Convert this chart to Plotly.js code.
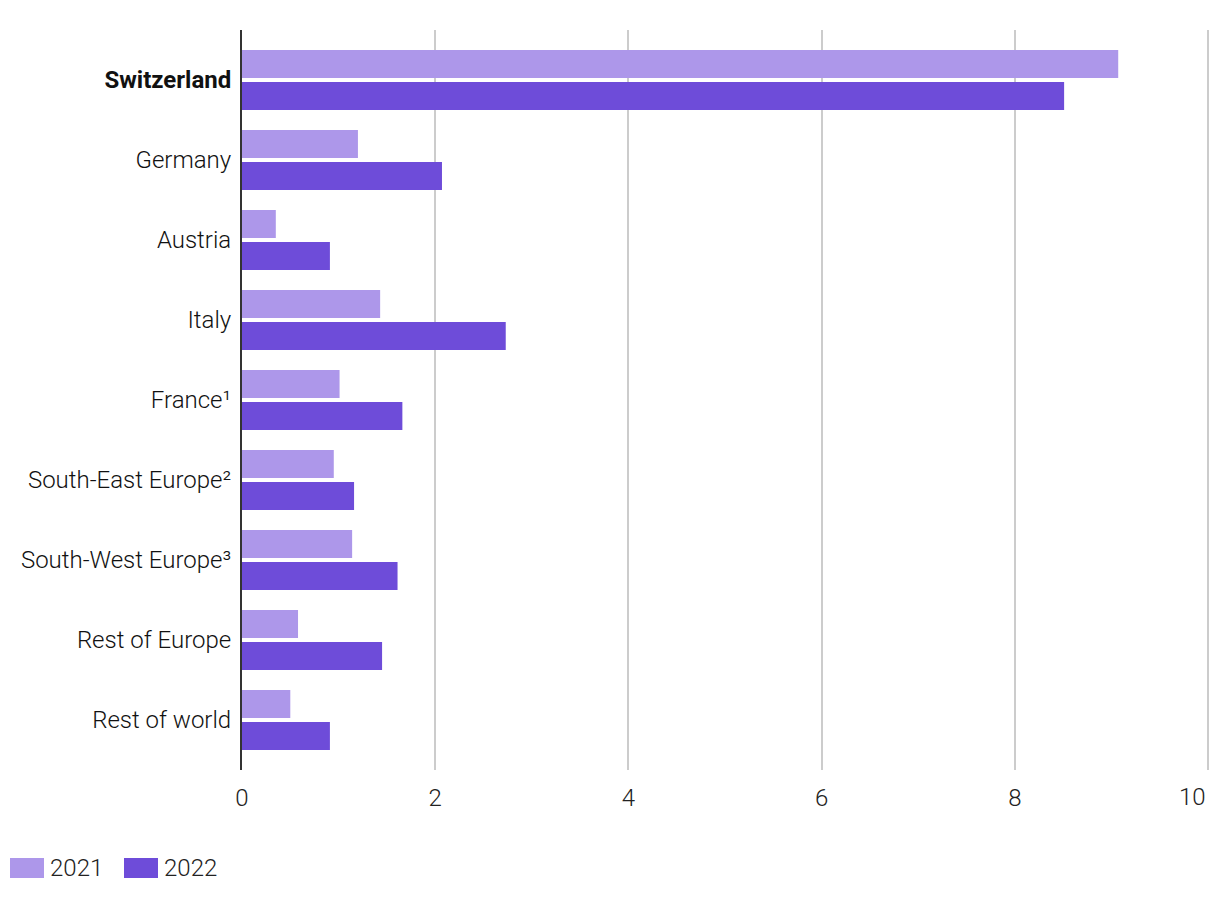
<!DOCTYPE html>
<html>
<head>
<meta charset="utf-8">
<script src="https://cdn.plot.ly/plotly-3.0.1.min.js"></script>
<style>html,body{margin:0;padding:0;background:#fff;}#chart{width:1220px;height:900px;}</style>
</head>
<body>
<div id="chart"></div>
<script>
const categories = ["Switzerland", "Germany", "Austria", "Italy", "France¹", "South-East Europe²", "South-West Europe³", "Rest of Europe", "Rest of world"];
const categoryLabels = ["<b>Switzerland</b>", "Germany", "Austria", "Italy", "France¹", "South-East Europe²", "South-West Europe³", "Rest of Europe", "Rest of world"];
const values2021 = [9.07, 1.20, 0.35, 1.43, 1.01, 0.95, 1.14, 0.58, 0.50];
const values2022 = [8.51, 2.07, 0.91, 2.73, 1.66, 1.16, 1.61, 1.45, 0.91];
const seriesNames = ["2021", "2022"];
const seriesColors = ["#AD97EA", "#6E4CD9"];
const xTicks = [0, 2, 4, 6, 8, 10];
const xTickLabels = ["0", "2", "4", "6", "8", "10"];

const FONT = "Roboto, 'Open Sans', sans-serif";

const traces = [values2021, values2022].map((vals, i) => ({
  type: "bar",
  orientation: "h",
  name: seriesNames[i],
  y: categories,
  x: vals,
  marker: {color: seriesColors[i]},
  hoverinfo: "x+name",
  showlegend: false
}));

// custom legend (wide swatches) built from series names/colours
const W = 968, H = 740, L = 242, T = 30;
const px = v => (v - L) / W;
const py = v => (T + H - v) / H;
const legendShapes = [], legendAnn = [];
seriesNames.forEach((n, i) => {
  const x0 = 10 + i * 114;
  legendShapes.push({type: "rect", xref: "paper", yref: "paper", x0: px(x0), x1: px(x0 + 34), y0: py(878), y1: py(858), fillcolor: seriesColors[i], line: {width: 0}});
  legendAnn.push({xref: "paper", yref: "paper", x: px(x0 + 38), y: py(868), xanchor: "left", yanchor: "middle", text: n, showarrow: false, font: {family: FONT, size: 24, color: "#222", weight: 300}});
});

// last tick label is kept inside the page (right-aligned on its gridline)
const lastIdx = xTicks.length - 1;
const tickAnn = {
  xref: "x", yref: "paper", x: xTicks[lastIdx], y: py(797),
  xanchor: "right", yanchor: "middle", text: xTickLabels[lastIdx], showarrow: false,
  font: {family: FONT, size: 24, color: "#222", weight: 300}
};

const layout = {
  width: 1220, height: 900,
  margin: {l: L, r: 1220 - L - W, t: T, b: 900 - T - H},
  paper_bgcolor: "#fff", plot_bgcolor: "#fff",
  font: {family: FONT, size: 24, color: "#222", weight: 300},
  barmode: "group",
  bargap: 0.2,
  bargroupgap: 0.125,
  showlegend: false,
  xaxis: {
    range: [0, 10.02],
    tickvals: xTicks,
    ticktext: xTickLabels.map((t, i) => i === lastIdx ? " " : t),
    showgrid: true, gridcolor: "#cccccc", gridwidth: 2,
    zeroline: false, showline: false, ticks: "",
    ticklabelstandoff: 11,
    tickfont: {family: FONT, size: 24, color: "#222", weight: 300},
    fixedrange: true
  },
  yaxis: {
    type: "category",
    categoryorder: "array", categoryarray: categories,
    tickvals: categories, ticktext: categoryLabels,
    range: [8.625, -0.625],
    showline: true, linecolor: "#333", linewidth: 2,
    showgrid: false, zeroline: false, ticks: "",
    ticklabelstandoff: 4,
    tickfont: {family: FONT, size: 24, color: "#111", weight: 300},
    fixedrange: true
  },
  shapes: legendShapes,
  annotations: legendAnn.concat([tickAnn])
};

Plotly.newPlot("chart", traces, layout, {displayModeBar: false, responsive: false});
</script>
</body>
</html>
